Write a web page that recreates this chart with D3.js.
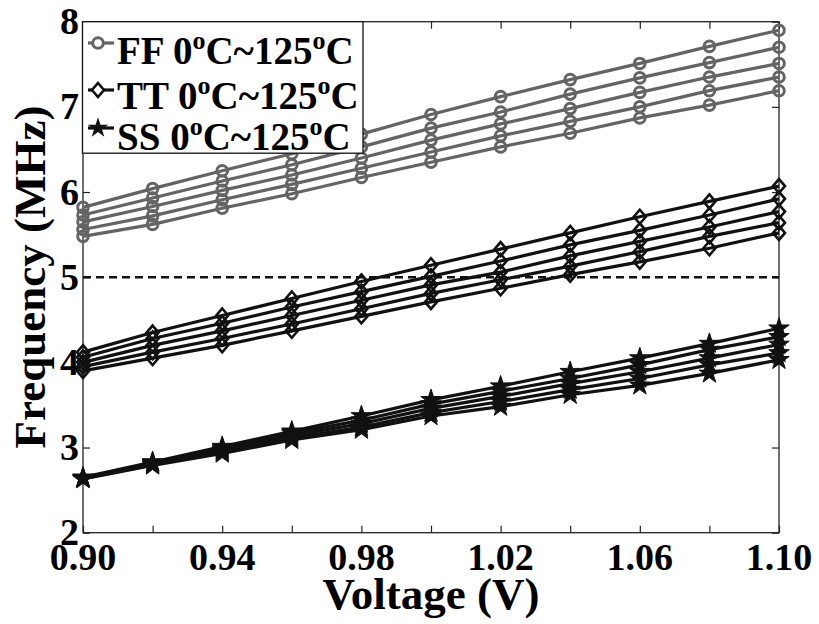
<!DOCTYPE html>
<html><head><meta charset="utf-8">
<script src="https://cdn.jsdelivr.net/npm/d3@7"></script>
<style>body{margin:0;background:#fff}svg{display:block}text{font-family:"Liberation Serif","Times New Roman",serif;font-weight:bold}</style>
</head><body>
<svg id="c" width="819" height="624"></svg>
<script>
const voltages = [0.90,0.92,0.94,0.96,0.98,1.00,1.02,1.04,1.06,1.08,1.10];
const xTickLabels = [0.90,0.94,0.98,1.02,1.06,1.10];
const yTickLabels = [2,3,4,5,6,7,8];
const threshold = 5;

const ffSeries = [
  [5.82,6.04,6.25,6.45,6.68,6.91,7.12,7.32,7.51,7.71,7.90],
  [5.73,5.93,6.13,6.32,6.53,6.75,6.94,7.15,7.34,7.52,7.70],
  [5.65,5.83,6.02,6.20,6.40,6.61,6.80,6.98,7.17,7.35,7.51],
  [5.56,5.72,5.91,6.09,6.28,6.47,6.66,6.83,7.00,7.19,7.35],
  [5.48,5.62,5.81,5.98,6.17,6.35,6.53,6.69,6.87,7.02,7.19]
];
const ttSeries = [
  [4.12,4.35,4.55,4.75,4.95,5.14,5.33,5.52,5.71,5.89,6.07],
  [4.06,4.28,4.46,4.65,4.83,5.01,5.19,5.38,5.55,5.73,5.92],
  [4.00,4.20,4.37,4.55,4.73,4.91,5.06,5.25,5.42,5.59,5.77],
  [3.95,4.12,4.28,4.45,4.63,4.81,4.97,5.13,5.30,5.48,5.64],
  [3.90,4.05,4.20,4.37,4.54,4.71,4.87,5.03,5.18,5.34,5.52]
];
const ssSeries = [
  [2.65,2.83,3.01,3.19,3.37,3.56,3.72,3.89,4.05,4.22,4.40],
  [2.645,2.82,2.99,3.17,3.32,3.51,3.66,3.81,3.97,4.15,4.30],
  [2.64,2.81,2.97,3.14,3.28,3.46,3.60,3.75,3.89,4.05,4.21],
  [2.635,2.80,2.95,3.11,3.24,3.41,3.54,3.68,3.81,3.97,4.11],
  [2.63,2.79,2.93,3.09,3.21,3.37,3.48,3.62,3.73,3.87,4.03]
];
const legendLabels = ["FF","TT","SS"];

const svg = d3.select("#c");
const L = 83, R = 779, T = 21.7, B = 532.7;
const x = d3.scaleLinear().domain([0.90,1.10]).range([L,R]);
const y = d3.scaleLinear().domain([2,8]).range([B,T]);
const gray = "#646464", black = "#111";

svg.append("rect").attr("x",L).attr("y",T).attr("width",R-L).attr("height",B-T)
  .attr("fill","none").attr("stroke","#222").attr("stroke-width",1.3);

const xt = d3.range(0.90,1.1001,0.02);
const ax = (g)=>g.selectAll("path.domain").remove();
[[d3.axisTop(x),`translate(0,${B})`,xt],[d3.axisBottom(x),`translate(0,${T})`,xt],
 [d3.axisRight(y),`translate(${L},0)`,yTickLabels],[d3.axisLeft(y),`translate(${R},0)`,yTickLabels]]
 .forEach(([a,tr,tv])=>{
  svg.append("g").attr("transform",tr).call(a.tickValues(tv).tickSize(7).tickFormat("")).call(ax)
    .selectAll("line").attr("stroke","#222").attr("stroke-width",1.2);
 });

svg.append("g").selectAll("text").data(xTickLabels).join("text")
  .attr("x",d=>x(d)).attr("y",570).attr("text-anchor","middle")
  .attr("font-size",38).text(d=>d.toFixed(2));
svg.append("g").selectAll("text").data(yTickLabels).join("text")
  .attr("x",79).attr("y",d=>y(d)+12.5).attr("text-anchor","end")
  .attr("font-size",38).text(d=>d);

svg.append("text").attr("x",431).attr("y",609).attr("text-anchor","middle")
  .attr("font-size",45).text("Voltage (V)");
svg.append("text").attr("transform","translate(45,277) rotate(-90)").attr("text-anchor","middle")
  .attr("font-size",45).text("Frequency (MHz)");

svg.append("line").attr("x1",L).attr("x2",R).attr("y1",y(threshold)).attr("y2",y(threshold))
  .attr("stroke",black).attr("stroke-width",2.5).attr("stroke-dasharray","8,5");

const line = d3.line().x((d,i)=>x(voltages[i])).y(d=>y(d));
const diamond = "M0,-7L6,0L0,7L-6,0Z";
const star = d3.symbol().type(d3.symbolStar).size(130)();

function drawGroup(series, color, kind){
  const g = svg.append("g");
  series.forEach(s=>{
    g.append("path").attr("d",line(s)).attr("fill","none").attr("stroke",color).attr("stroke-width",3.2);
  });
  series.forEach(s=>{
    s.forEach((v,i)=>{
      const cx = x(voltages[i]), cy = y(v);
      if(kind==="circle") g.append("circle").attr("cx",cx).attr("cy",cy).attr("r",5.3)
        .attr("fill","none").attr("stroke",color).attr("stroke-width",3);
      else if(kind==="diamond") g.append("path").attr("d",diamond).attr("transform",`translate(${cx},${cy})`)
        .attr("fill","none").attr("stroke",color).attr("stroke-width",2.6);
      else g.append("path").attr("d",star).attr("transform",`translate(${cx},${cy})`)
        .attr("fill",color).attr("stroke",color).attr("stroke-width",1);
    });
  });
}
drawGroup(ffSeries, gray, "circle");
drawGroup(ttSeries, black, "diamond");
drawGroup(ssSeries, black, "star");

const lg = svg.append("g");
lg.append("rect").attr("x",82.5).attr("y",T).attr("width",280.5).attr("height",131.5)
  .attr("fill","#fff").attr("stroke","#111").attr("stroke-width",1.3);
const rows = [{c:gray,k:"circle",my:43,by:64},{c:black,k:"diamond",my:90,by:109},{c:black,k:"star",my:128,by:150}];
rows.forEach((r,i)=>{
  lg.append("line").attr("x1",88).attr("x2",114).attr("y1",r.my).attr("y2",r.my)
    .attr("stroke",r.c).attr("stroke-width",3.2);
  if(r.k==="circle") lg.append("circle").attr("cx",98).attr("cy",r.my).attr("r",5.3)
    .attr("fill","#fff").attr("stroke",r.c).attr("stroke-width",3);
  else if(r.k==="diamond") lg.append("path").attr("d",diamond).attr("transform",`translate(98,${r.my})`)
    .attr("fill","#fff").attr("stroke",r.c).attr("stroke-width",2.6);
  else lg.append("path").attr("d",star).attr("transform",`translate(98,${r.my})`).attr("fill",r.c);
  const t = lg.append("text").attr("x",117).attr("y",r.by).attr("font-size",39);
  t.append("tspan").text(legendLabels[i]+" 0");
  t.append("tspan").attr("dy",-15).attr("font-size",26).text("o");
  t.append("tspan").attr("dy",15).text("C~125");
  t.append("tspan").attr("dy",-15).attr("font-size",26).text("o");
  t.append("tspan").attr("dy",15).text("C");
});
</script>
</body></html>
